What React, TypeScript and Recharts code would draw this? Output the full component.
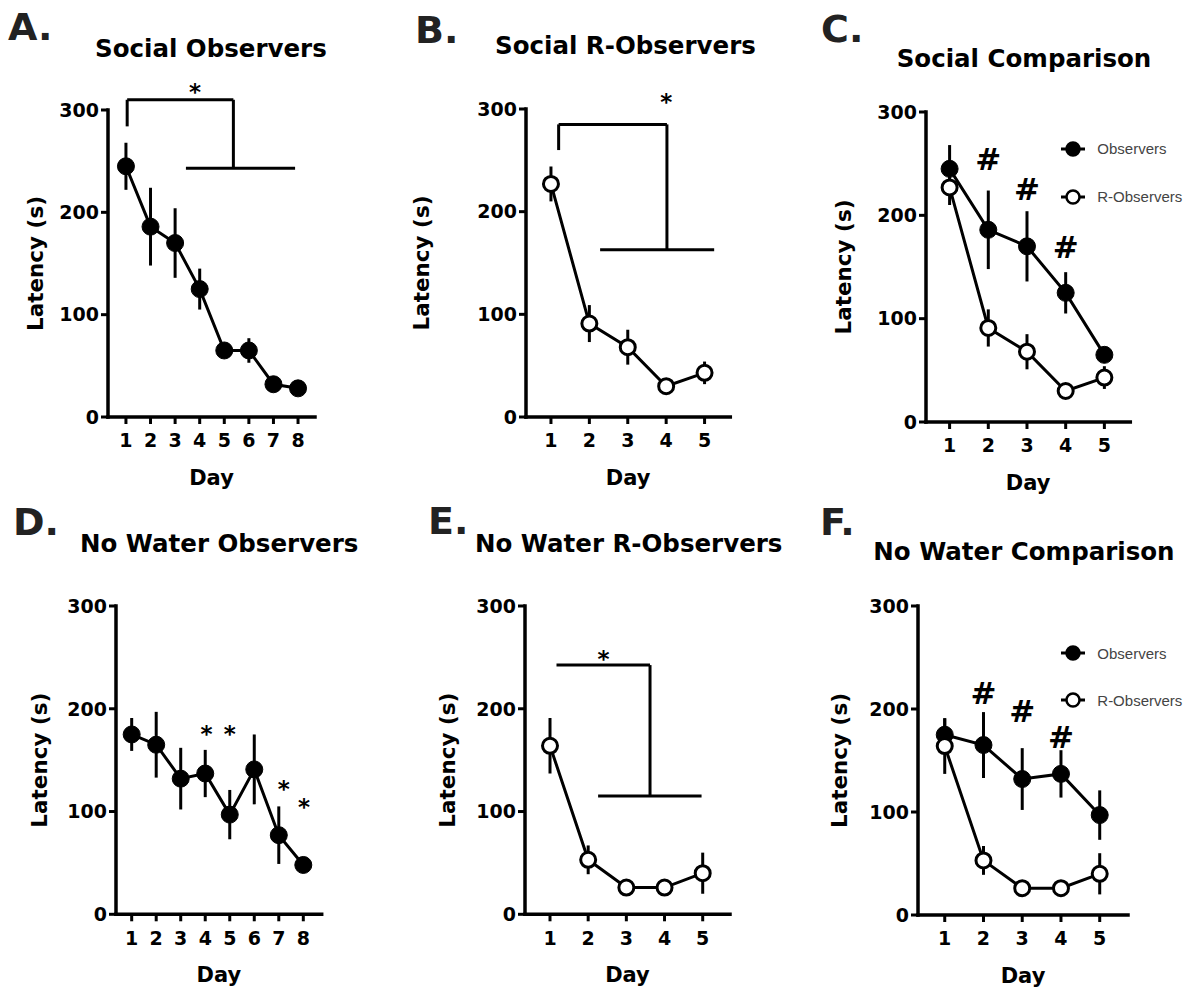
import React from 'react';
import { LineChart, Line, XAxis, YAxis, ErrorBar, ReferenceLine, ReferenceDot, Legend } from 'recharts';

const FONT = '"DejaVu Sans", sans-serif';

// days and axis ticks
const days8 = [1, 2, 3, 4, 5, 6, 7, 8];
const days5 = [1, 2, 3, 4, 5];
const latencyTicks = [0, 100, 200, 300];

// latency means (s) and SEM
const socialObsMean = [245, 186, 170, 125, 65, 65, 32, 28];
const socialObsErr = [23, 38, 34, 20, 6, 12, 6, 4];
const socialRObsMean = [227, 91, 68, 30, 43];
const socialRObsErr = [17, 18, 17, 3, 11];
const noWaterObsMean = [175, 165, 132, 137, 97, 141, 77, 48];
const noWaterObsErr = [16, 32, 30, 23, 24, 34, 28, 3];
const noWaterRObsMean = [164, 53, 26, 26, 40];
const noWaterRObsErr = [27, 14, 3, 3, 20];

const panelLetters = ['A.', 'B.', 'C.', 'D.', 'E.', 'F.'];
const panelTitles = [
  'Social Observers',
  'Social R-Observers',
  'Social Comparison',
  'No Water Observers',
  'No Water R-Observers',
  'No Water Comparison',
];

type Series = { key: string; mean: number[]; err: number[] };

function buildRows(days: number[], series: Series[]) {
  return days.map((d, i) => {
    const row: any = { day: d };
    series.forEach((s) => {
      if (i < s.mean.length) {
        row[s.key] = s.mean[i];
        row[s.key + 'Err'] = s.err[i];
      }
    });
    return row;
  });
}

const obsLine = { key: 'obs', name: 'Observers', filled: true };
const rObsLine = { key: 'robs', name: 'R-Observers', filled: false };

type Mark = { x: number; y: number; ch: string };
type PanelCfg = {
  plotLeft: number;
  plotRight: number;
  plotTop: number;
  plotBottom: number;
  xDomain: [number, number];
  xTicks: number[];
  data: any[];
  lines: { key: string; name: string; filled: boolean }[];
  brackets: number[][];
  marks: Mark[];
  labelX: number;
  title: [number, number];
  letter: [number, number];
  legend?: { left: number; top: number; rowH: number };
};

const panels: PanelCfg[] = [
  {
    plotLeft: 108, plotRight: 315, plotTop: 110, plotBottom: 417,
    xDomain: [0.27, 8.69], xTicks: days8,
    data: buildRows(days8, [{ key: 'obs', mean: socialObsMean, err: socialObsErr }]),
    lines: [obsLine],
    brackets: [[1.05, 310, 5.37, 310], [1.05, 310, 1.05, 284], [5.37, 310, 5.37, 243], [3.44, 243, 7.88, 243]],
    marks: [{ x: 3.81, y: 322, ch: '*' }],
    labelX: 35, title: [95, 56.7], letter: [8, 40],
  },
  {
    plotLeft: 525.7, plotRight: 730, plotTop: 109, plotBottom: 417,
    xDomain: [0.35, 5.67], xTicks: days5,
    data: buildRows(days5, [{ key: 'robs', mean: socialRObsMean, err: socialRObsErr }]),
    lines: [rObsLine],
    brackets: [[1.2, 285, 4.02, 285], [1.2, 285, 1.2, 260], [4.02, 285, 4.02, 163], [2.28, 163, 5.25, 163]],
    marks: [{ x: 4.0, y: 312, ch: '*' }],
    labelX: 421, title: [495, 53.5], letter: [415, 43],
  },
  {
    plotLeft: 925.7, plotRight: 1130, plotTop: 111.7, plotBottom: 421.7,
    xDomain: [0.39, 5.67], xTicks: days5,
    data: buildRows(days5, [
      { key: 'obs', mean: socialObsMean.slice(0, 5), err: socialObsErr.slice(0, 5) },
      { key: 'robs', mean: socialRObsMean, err: socialRObsErr },
    ]),
    lines: [obsLine, rObsLine],
    brackets: [],
    marks: [{ x: 2, y: 255, ch: '#' }, { x: 3, y: 226, ch: '#' }, { x: 4, y: 169.5, ch: '#' }],
    labelX: 843, title: [896.7, 66.7], letter: [821, 42],
    legend: { left: 275.6, top: 53.3, rowH: 47.7 },
  },
  {
    plotLeft: 116, plotRight: 321.7, plotTop: 606, plotBottom: 914.3,
    xDomain: [0.36, 8.75], xTicks: days8,
    data: buildRows(days8, [{ key: 'obs', mean: noWaterObsMean, err: noWaterObsErr }]),
    lines: [obsLine],
    brackets: [],
    marks: [
      { x: 4.05, y: 180, ch: '*' }, { x: 5, y: 180, ch: '*' },
      { x: 7.2, y: 127, ch: '*' }, { x: 8.03, y: 109.5, ch: '*' },
    ],
    labelX: 39, title: [80, 551.7], letter: [13, 535],
  },
  {
    plotLeft: 525, plotRight: 730, plotTop: 606, plotBottom: 914.3,
    xDomain: [0.345, 5.715], xTicks: days5,
    data: buildRows(days5, [{ key: 'robs', mean: noWaterRObsMean, err: noWaterRObsErr }]),
    lines: [rObsLine],
    brackets: [[1.17, 242.5, 3.62, 242.5], [3.62, 242.5, 3.62, 115], [2.26, 115, 4.97, 115]],
    marks: [{ x: 2.4, y: 253, ch: '*' }],
    labelX: 447.5, title: [475, 551.7], letter: [428, 533.5],
  },
  {
    plotLeft: 918.3, plotRight: 1128.3, plotTop: 606, plotBottom: 915,
    xDomain: [0.31, 5.73], xTicks: days5,
    data: buildRows(days5, [
      { key: 'obs', mean: noWaterObsMean.slice(0, 5), err: noWaterObsErr.slice(0, 5) },
      { key: 'robs', mean: noWaterRObsMean, err: noWaterRObsErr },
    ]),
    lines: [obsLine, rObsLine],
    brackets: [],
    marks: [{ x: 2, y: 216, ch: '#' }, { x: 3, y: 198, ch: '#' }, { x: 4, y: 173, ch: '#' }],
    labelX: 840, title: [873.3, 560], letter: [820, 535],
    legend: { left: 283, top: 64, rowH: 46.7 },
  },
];

function markShape(ch: string) {
  return (p: any) => {
    const fs = ch === '#' ? 31 : 23;
    const dy = ch === '#' ? 0.36 * fs : 0.56 * fs;
    return (
      <text x={p.cx} y={p.cy + dy} textAnchor="middle" fontFamily={FONT} fontWeight="bold" fontSize={fs} fill="#000">
        {ch}
      </text>
    );
  };
}

function LegendBox({ payload, rowH }: { payload?: any[]; rowH: number }) {
  return (
    <div>
      {(payload || []).map((entry: any) => {
        const filled = entry.value === 'Observers';
        return (
          <div key={entry.value} style={{ display: 'flex', alignItems: 'center', height: rowH }}>
            <svg width={24} height={18}>
              <line x1={0} y1={9} x2={24} y2={9} stroke="#000" strokeWidth={3} />
              <circle cx={12} cy={9} r={6.5} fill={filled ? '#000' : '#fff'} stroke="#000" strokeWidth={2.5} />
            </svg>
            <span style={{ marginLeft: 12, fontFamily: '"Liberation Sans", Arial, sans-serif', fontSize: 15, color: '#444' }}>
              {entry.value}
            </span>
          </div>
        );
      })}
    </div>
  );
}

function Panel({ cfg }: { cfg: PanelCfg }) {
  const ML = 140, MT = 40, MB = 90, YW = 60, XH = 40;
  const MR = cfg.legend ? 72 : 20;
  const left = cfg.plotLeft - ML;
  const top = cfg.plotTop - MT;
  const width = cfg.plotRight - left + MR;
  const height = cfg.plotBottom - top + MB;
  const tick = { fontSize: 19, fontFamily: FONT, fontWeight: 'bold', fill: '#000' };
  const axisLine = { stroke: '#000', strokeWidth: 3.5, strokeLinecap: 'square' as const };
  const tickLine = { stroke: '#000', strokeWidth: 3 };

  return (
    <div style={{ position: 'absolute', left, top }}>
      <LineChart
        width={width}
        height={height}
        data={cfg.data}
        margin={{ top: MT, right: MR, bottom: MB - XH, left: ML - YW }}
      >
        <XAxis
          dataKey="day"
          type="number"
          domain={cfg.xDomain}
          ticks={cfg.xTicks}
          allowDataOverflow
          height={XH}
          tick={tick}
          tickSize={7}
          tickMargin={10}
          axisLine={axisLine}
          tickLine={tickLine}
          label={{ value: 'Day', position: 'bottom', offset: 13, fontSize: 21, fontFamily: FONT, fontWeight: 'bold', fill: '#000' }}
        />
        <YAxis
          type="number"
          domain={[0, 300]}
          ticks={latencyTicks}
          allowDataOverflow
          width={YW}
          tick={tick}
          tickSize={7}
          tickMargin={2}
          axisLine={axisLine}
          tickLine={tickLine}
          label={{
            value: 'Latency (s)',
            angle: -90,
            position: 'insideLeft',
            offset: cfg.labelX - cfg.plotLeft + YW,
            fontSize: 21.5,
            fontFamily: FONT,
            fontWeight: 'bold',
            fill: '#000',
            style: { textAnchor: 'middle' },
          }}
        />
        {cfg.brackets.map((b, i) => (
          <ReferenceLine
            key={'b' + i}
            segment={[{ x: b[0], y: b[1] }, { x: b[2], y: b[3] }]}
            stroke="#000"
            strokeWidth={3}
            ifOverflow="visible"
          />
        ))}
        {cfg.lines.map((l) => (
          <Line
            key={l.key}
            dataKey={l.key}
            name={l.name}
            type="linear"
            stroke="#000"
            strokeWidth={3}
            isAnimationActive={false}
            dot={l.filled
              ? { r: 8.5, fill: '#000', stroke: '#000', strokeWidth: 1 }
              : { r: 7.5, fill: '#fff', stroke: '#000', strokeWidth: 3 }}
            activeDot={false}
          >
            <ErrorBar dataKey={l.key + 'Err'} width={0} strokeWidth={3} stroke="#000" direction="y" />
          </Line>
        ))}
        {cfg.marks.map((m, i) => (
          <ReferenceDot key={'m' + i} x={m.x} y={m.y} r={10} ifOverflow="visible" shape={markShape(m.ch)} />
        ))}
        {cfg.legend && (
          <Legend
            layout="vertical"
            align="center"
            verticalAlign="middle"
            wrapperStyle={{ left: cfg.legend.left, top: cfg.legend.top, width: 140 }}
            content={(props: any) => <LegendBox payload={props.payload} rowH={cfg.legend!.rowH} />}
          />
        )}
      </LineChart>
    </div>
  );
}

export default function App() {
  return (
    <div style={{ position: 'absolute', left: 0, top: 0, width: 1202, height: 991, background: '#fff', overflow: 'hidden' }}>
      <svg width={1202} height={991} style={{ position: 'absolute', left: 0, top: 0 }}>
        {panels.map((p, i) => (
          <g key={i}>
            <text x={p.letter[0]} y={p.letter[1]} fontFamily={FONT} fontWeight="bold" fontSize={38} fill="#222">
              {panelLetters[i]}
            </text>
            <text x={p.title[0]} y={p.title[1]} fontFamily={FONT} fontWeight="bold" fontSize={24.5} fill="#000">
              {panelTitles[i]}
            </text>
          </g>
        ))}
      </svg>
      {panels.map((p, i) => (
        <Panel key={i} cfg={p} />
      ))}
    </div>
  );
}
